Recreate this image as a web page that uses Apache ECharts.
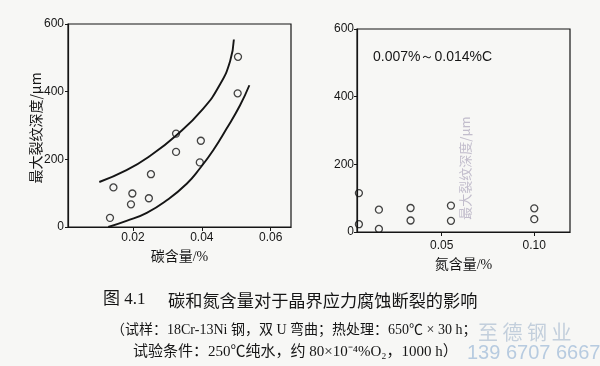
<!DOCTYPE html>
<html>
<head>
<meta charset="utf-8">
<script src="https://cdn.jsdelivr.net/npm/echarts@6/dist/echarts.min.js"></script>
<style>
html,body{margin:0;padding:0;background:#f7f7f5;}
#c{width:600px;height:366px;}
</style>
</head>
<body>
<div id="c"></div>
<script>
// ---- Left panel: carbon content vs max crack depth ----
const carbonContent = [0.0143, 0.0198, 0.0194, 0.0133, 0.0246, 0.0252, 0.0325, 0.0325, 0.0397, 0.0394, 0.0505, 0.0504];
const carbonDepth   = [117, 99, 67, 27, 85, 156, 276, 222, 255, 191, 503, 395];
// upper / lower band curves
const upperBandX = [0.0102, 0.0181, 0.0249, 0.0327, 0.0404, 0.0453, 0.0482, 0.0493];
const upperBandY = [133, 168, 210, 272, 350, 422, 490, 554];
const lowerBandX = [0.0128, 0.0181, 0.0240, 0.0298, 0.0356, 0.0394, 0.0433, 0.0472, 0.0511, 0.0538];
const lowerBandY = [0, 18, 42, 79, 128, 173, 227, 291, 360, 419];
const carbonTicks = [0.02, 0.04, 0.06];

// ---- Right panel: nitrogen content vs max crack depth ----
const nitrogenContent = [0.0053, 0.0053, 0.0161, 0.0161, 0.0332, 0.0332, 0.055, 0.055, 0.10, 0.10];
const nitrogenDepth   = [115, 23, 66, 9, 71, 34, 78, 33, 70, 38];
const nitrogenTicks = [0.05, 0.10];

const depthTicksMax = 600;
const depthInterval = 200;

const yName = '最大裂纹深度/μm';
const xNameC = '碳含量/%';
const xNameN = '氮含量/%';
const noteN = '0.007%～0.014%C';
const caption1a = '图 4.1';
const caption1b = '碳和氮含量对于晶界应力腐蚀断裂的影响';
const caption2 = '（试样：18Cr-13Ni 钢，双 U 弯曲；热处理：650℃ × 30 h；';
const caption3 = '试验条件：250℃纯水，约 80×10⁻⁴%O₂，1000 h）';
const wm1 = '至 德 钢 业';
const wm2 = '139 6707 6667';

const ink = '#151515';
const sans = "'Liberation Sans', Arial, sans-serif";
const serif = "'Liberation Serif','Noto Sans CJK SC', serif";
const cjk = "'Noto Sans CJK SC', sans-serif";

function zip(a, b) { return a.map((v, i) => [v, b[i]]); }

const axisLineStyle = { show: true, lineStyle: { color: ink, width: 1.2 } };

const chart = echarts.init(document.getElementById('c'), null, { renderer: 'canvas' });

const option = {
  backgroundColor: '#f7f7f5',
  animation: false,
  grid: [
    { left: 68, top: 24, width: 223, height: 203, show: true, borderColor: ink, borderWidth: 1.2, backgroundColor: 'transparent' },
    { left: 357, top: 29, width: 213, height: 203, show: true, borderColor: ink, borderWidth: 1.2, backgroundColor: 'transparent' }
  ],
  xAxis: [
    {
      type: 'value', gridIndex: 0, min: 0.0011, max: 0.0659,
      axisLine: axisLineStyle,
      axisTick: { show: true, customValues: carbonTicks, length: 4, lineStyle: { color: ink, width: 1 } },
      axisLabel: { customValues: carbonTicks, formatter: v => v.toFixed(2), color: ink, fontSize: 12, fontFamily: sans, margin: 5 },
      splitLine: { show: false },
      name: xNameC, nameLocation: 'middle', nameGap: 23,
      nameTextStyle: { color: ink, fontSize: 14, fontFamily: serif }
    },
    {
      type: 'value', gridIndex: 1, min: 0.00427, max: 0.1193,
      axisLine: axisLineStyle,
      axisTick: { show: true, customValues: nitrogenTicks, length: 4, lineStyle: { color: ink, width: 1 } },
      axisLabel: { customValues: nitrogenTicks, formatter: v => v.toFixed(2), color: ink, fontSize: 12, fontFamily: sans, margin: 8 },
      splitLine: { show: false },
      name: xNameN, nameLocation: 'middle', nameGap: 26,
      nameTextStyle: { color: ink, fontSize: 14, fontFamily: serif }
    }
  ],
  yAxis: [
    {
      type: 'value', gridIndex: 0, min: 0, max: depthTicksMax, interval: depthInterval,
      axisLine: axisLineStyle,
      axisTick: { show: true, length: 3, lineStyle: { color: ink, width: 1 } },
      axisLabel: { color: ink, fontSize: 12, fontFamily: sans, margin: 4 },
      splitLine: { show: false }
    },
    {
      type: 'value', gridIndex: 1, min: 0, max: depthTicksMax, interval: depthInterval,
      axisLine: axisLineStyle,
      axisTick: { show: true, length: 3, lineStyle: { color: ink, width: 1 } },
      axisLabel: { color: ink, fontSize: 12, fontFamily: sans, margin: 3 },
      splitLine: { show: false }
    }
  ],
  series: [
    {
      type: 'line', xAxisIndex: 0, yAxisIndex: 0, data: zip(upperBandX, upperBandY),
      smooth: true, showSymbol: false, clip: false, silent: true,
      lineStyle: { color: ink, width: 1.9 }, z: 2
    },
    {
      type: 'line', xAxisIndex: 0, yAxisIndex: 0, data: zip(lowerBandX, lowerBandY),
      smooth: true, showSymbol: false, clip: false, silent: true,
      lineStyle: { color: ink, width: 1.9 }, z: 2
    },
    {
      type: 'scatter', xAxisIndex: 0, yAxisIndex: 0, data: zip(carbonContent, carbonDepth),
      symbol: 'circle', symbolSize: 7,
      itemStyle: { color: 'rgba(0,0,0,0)', borderColor: ink, borderWidth: 1.3 }, z: 3
    },
    {
      type: 'scatter', xAxisIndex: 1, yAxisIndex: 1, data: zip(nitrogenContent, nitrogenDepth),
      symbol: 'circle', symbolSize: 7,
      itemStyle: { color: 'rgba(0,0,0,0)', borderColor: ink, borderWidth: 1.3 }, z: 3
    }
  ],
  graphic: [
    { type: 'text', x: 36, y: 128, rotation: Math.PI / 2,
      style: { text: yName, fill: ink, font: '14px ' + cjk, align: 'center', verticalAlign: 'middle' } },
    { type: 'text', x: 465, y: 168, rotation: Math.PI / 2,
      style: { text: yName, fill: '#c2bdcc', font: '13px ' + cjk, align: 'center', verticalAlign: 'middle' } },
    { type: 'text', x: 373, y: 57,
      style: { text: noteN, fill: ink, font: '14px ' + sans, align: 'left', verticalAlign: 'middle' } },
    { type: 'text', x: 103, y: 300,
      style: { text: caption1a, fill: ink, font: '17px ' + serif, align: 'left', verticalAlign: 'middle' } },
    { type: 'text', x: 168, y: 300,
      style: { text: caption1b, fill: ink, font: '17.2px ' + cjk, align: 'left', verticalAlign: 'middle' } },
    { type: 'text', x: 111, y: 330,
      style: { text: caption2, fill: ink, font: '14px ' + serif, align: 'left', verticalAlign: 'middle' } },
    { type: 'text', x: 133, y: 352,
      style: { text: caption3, fill: ink, font: '15px ' + serif, align: 'left', verticalAlign: 'middle' } },
    { type: 'text', x: 478, y: 332,
      style: { text: wm1, fill: '#c3cfdc', font: '20px ' + cjk, align: 'left', verticalAlign: 'middle' } },
    { type: 'text', x: 467, y: 353,
      style: { text: wm2, fill: '#b7cbe0', font: '20px ' + sans, align: 'left', verticalAlign: 'middle' } }
  ]
};

chart.setOption(option);
</script>
</body>
</html>
